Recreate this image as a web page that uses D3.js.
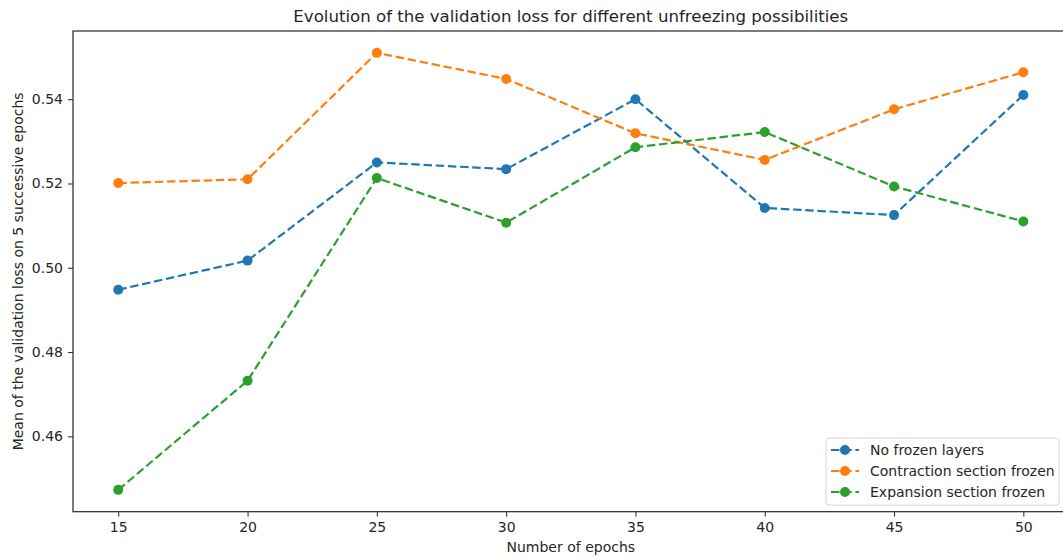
<!DOCTYPE html>
<html>
<head>
<meta charset="utf-8">
<script src="https://cdn.jsdelivr.net/npm/d3@7"></script>
<style>
  body { margin: 0; background: #fff; }
  text { font-family: "DejaVu Sans", sans-serif; fill: #262626; }
</style>
</head>
<body>
<div id="chart"></div>
<script>
const epochs = [15, 20, 25, 30, 35, 40, 45, 50];
const noFrozen = [0.4948, 0.5017, 0.5250, 0.5234, 0.5400, 0.5142, 0.5125, 0.5410];
const contractionFrozen = [0.5201, 0.5210, 0.5510, 0.5448, 0.5319, 0.5256, 0.5376, 0.5464];
const expansionFrozen = [0.4473, 0.4732, 0.5213, 0.5107, 0.5286, 0.5322, 0.5193, 0.5110];
const yTicks = [0.46, 0.48, 0.50, 0.52, 0.54];

const series = [
    { name: "No frozen layers", values: noFrozen, color: "#1f77b4" },
    { name: "Contraction section frozen", values: contractionFrozen, color: "#ff7f0e" },
    { name: "Expansion section frozen", values: expansionFrozen, color: "#2ca02c" }
];

const width = 1063, height = 558;
const margin = { left: 73, right: 1063 - 1068.6, top: 31, bottom: 558 - 511.7 };

const svg = d3.select("#chart")
    .append("svg")
    .attr("width", width)
    .attr("height", height);

// matplotlib-style 5% margins
const xPad = (d3.max(epochs) - d3.min(epochs)) * 0.05;
const allY = series.flatMap(s => s.values);
const yMin = d3.min(allY), yMax = d3.max(allY);
const yPad = (yMax - yMin) * 0.05;

const x = d3.scaleLinear()
    .domain([d3.min(epochs) - xPad, d3.max(epochs) + xPad])
    .range([margin.left, width - margin.right]);

const y = d3.scaleLinear()
    .domain([yMin - yPad, yMax + yPad])
    .range([height - margin.bottom, margin.top]);

const plot = svg.append("g");

const line = d3.line()
    .x((d, i) => x(epochs[i]))
    .y(d => y(d));

series.forEach(s => {
    plot.append("path")
        .datum(s.values)
        .attr("fill", "none")
        .attr("stroke", s.color)
        .attr("stroke-width", 2.2)
        .attr("stroke-dasharray", "8.5,3.7")
        .attr("d", line);

    plot.selectAll(null)
        .data(s.values)
        .enter()
        .append("circle")
        .attr("cx", (d, i) => x(epochs[i]))
        .attr("cy", d => y(d))
        .attr("r", 5)
        .attr("fill", s.color);
});

// axes
const xAxis = svg.append("g")
    .attr("transform", `translate(0,${height - margin.bottom})`)
    .call(d3.axisBottom(x).tickValues(epochs).tickSize(5).tickPadding(5).tickFormat(d3.format("d")));

const yAxis = svg.append("g")
    .attr("transform", `translate(${margin.left},0)`)
    .call(d3.axisLeft(y).tickValues(yTicks).tickSize(5).tickPadding(5).tickFormat(d3.format(".2f")));

[xAxis, yAxis].forEach(a => {
    a.select(".domain").remove();
    a.selectAll("line").attr("stroke", "#262626").attr("stroke-width", 1);
    a.selectAll("text").style("font-size", "14px").attr("fill", "#262626");
});

// spines
svg.append("rect")
    .attr("x", margin.left)
    .attr("y", margin.top)
    .attr("width", x.range()[1] - margin.left)
    .attr("height", y.range()[0] - margin.top)
    .attr("fill", "none")
    .attr("stroke", "#262626")
    .attr("stroke-width", 1.2);

// labels
const cx = (x.range()[0] + x.range()[1]) / 2;
svg.append("text")
    .attr("x", cx)
    .attr("y", 22)
    .attr("text-anchor", "middle")
    .style("font-size", "16.6px")
    .text("Evolution of the validation loss for different unfreezing possibilities");

svg.append("text")
    .attr("x", cx)
    .attr("y", 552)
    .attr("text-anchor", "middle")
    .style("font-size", "14px")
    .text("Number of epochs");

svg.append("text")
    .attr("transform", `translate(23,${(margin.top + y.range()[0]) / 2})rotate(-90)`)
    .attr("text-anchor", "middle")
    .style("font-size", "14px")
    .text("Mean of the validation loss on 5 successive epochs");

// legend
const lg = svg.append("g").attr("transform", "translate(826,438)");
lg.append("rect")
    .attr("width", 233)
    .attr("height", 67)
    .attr("rx", 3)
    .attr("fill", "#fff")
    .attr("fill-opacity", 0.8)
    .attr("stroke", "#d6d6d6");

series.forEach((s, i) => {
    const row = lg.append("g").attr("transform", `translate(0,${12 + i * 21})`);
    row.append("line")
        .attr("x1", 5).attr("x2", 33)
        .attr("stroke", s.color)
        .attr("stroke-width", 2.2)
        .attr("stroke-dasharray", "8.5,3.7");
    row.append("circle").attr("cx", 19).attr("r", 5).attr("fill", s.color);
    row.append("text")
        .attr("x", 44)
        .attr("dy", "0.35em")
        .style("font-size", "14px")
        .text(s.name);
});
</script>
</body>
</html>
